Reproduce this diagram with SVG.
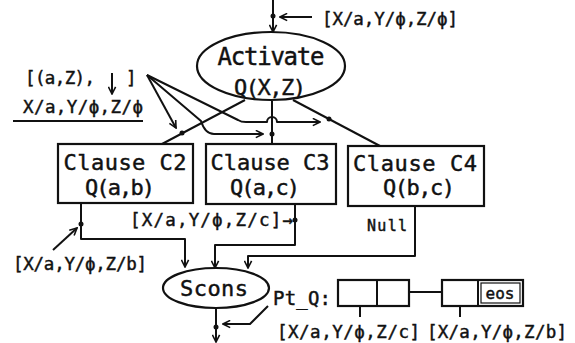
<svg xmlns="http://www.w3.org/2000/svg" width="575" height="343" viewBox="0 0 575 343">
  <defs>
    <style>
      .ln { fill: none; stroke: #111; stroke-width: 2; stroke-linejoin: round; }
      .box { fill: #fff; stroke: #111; stroke-width: 2.2; }
      .dot { fill: #111; }
      .t { font-family: "DejaVu Sans Mono", "Liberation Mono", monospace; fill: #111; stroke: #111; stroke-width: 0.45; }
      .big { font-size: 22px; }
      .lbl { font-size: 17.5px; }
    </style>
    <marker id="arr" viewBox="0 0 10 10" refX="9" refY="5" markerWidth="9" markerHeight="9" markerUnits="userSpaceOnUse" orient="auto">
      <path d="M1,1 L9,5 L1,9" fill="none" stroke="#111" stroke-width="1.8"/>
    </marker>
  </defs>
  <rect width="575" height="343" fill="#fff"/>

  <!-- connectors -->
  <g id="connectors">
    <!-- input into Activate -->
    <line class="ln" x1="273" y1="0" x2="273" y2="32" marker-end="url(#arr)"/>
    <circle class="dot" cx="273" cy="16" r="2.5"/>
    <line class="ln" x1="312" y1="17" x2="280" y2="17" marker-end="url(#arr)"/>

    <!-- Activate to clauses -->
    <line class="ln" x1="245" y1="100" x2="162" y2="144"/>
    <circle class="dot" cx="182" cy="133" r="2.5"/>
    <line class="ln" x1="272" y1="101" x2="272" y2="144"/>
    <circle class="dot" cx="272" cy="134" r="2.5"/>
    <line class="ln" x1="293" y1="100" x2="380" y2="146"/>
    <circle class="dot" cx="329" cy="119" r="2.5"/>

    <!-- bindings fanned out to the clause lines -->
    <line class="ln" x1="147" y1="75" x2="176" y2="128" marker-end="url(#arr)"/>
    <path class="ln" d="M147,75 L201,121 Q205,134 214,134 L263,134" marker-end="url(#arr)"/>
    <path class="ln" d="M147,75 L238,120 Q241,122 246,122 L267,122 A5,5 0 0 1 277,122 L320,122" marker-end="url(#arr)"/>

    <!-- binding list underline and down arrow -->
    <line class="ln" x1="13" y1="121" x2="143" y2="121"/>
    <line class="ln" x1="112" y1="73" x2="112" y2="94" marker-end="url(#arr)"/>

    <!-- clause results into Scons -->
    <path class="ln" d="M81,203 L81,239 L185,239 L185,267" marker-end="url(#arr)"/>
    <circle class="dot" cx="81" cy="224" r="2.5"/>
    <line class="ln" x1="53" y1="250" x2="77" y2="228" marker-end="url(#arr)"/>
    <path class="ln" d="M295,204 L295,245 L215,245 L215,268" marker-end="url(#arr)"/>
    <circle class="dot" cx="295" cy="220" r="2.5"/>
    <path class="ln" d="M415,206 L415,256 L248,256 L248,268" marker-end="url(#arr)"/>

    <!-- Scons output -->
    <line class="ln" x1="216" y1="308" x2="216" y2="342" marker-end="url(#arr)"/>
    <circle class="dot" cx="216" cy="327" r="2.5"/>
    <path class="ln" d="M268,306 L250,324 L223,324" marker-end="url(#arr)"/>

    <!-- stream list links -->
    <line class="ln" x1="390" y1="292" x2="442" y2="292" stroke-width="1.6"/>
    <line class="ln" x1="360" y1="290" x2="360" y2="317" stroke-width="1.8"/>
    <line class="ln" x1="460" y1="290" x2="460" y2="317" stroke-width="1.8"/>
  </g>

  <!-- nodes -->
  <g id="activate">
    <ellipse class="box" cx="271" cy="66" rx="74" ry="34"/>
    <text class="t" x="271" y="65" font-size="24" text-anchor="middle" textLength="107">Activate</text>
    <text class="t big" x="270" y="95" text-anchor="middle" textLength="72">Q(X,Z)</text>
  </g>

  <g id="clause-c2">
    <rect class="box" x="58" y="144" width="135" height="59"/>
    <text class="t big" x="125" y="170" text-anchor="middle" textLength="123">Clause C2</text>
    <text class="t big" x="120" y="195" text-anchor="middle" textLength="70">Q(a,b)</text>
  </g>

  <g id="clause-c3">
    <rect class="box" x="206" y="144" width="130" height="60"/>
    <text class="t big" x="270" y="170" text-anchor="middle" textLength="119">Clause C3</text>
    <text class="t big" x="265" y="195" text-anchor="middle" textLength="70">Q(a,c)</text>
  </g>

  <g id="clause-c4">
    <rect class="box" x="348" y="146" width="136" height="60"/>
    <text class="t big" x="415" y="171" text-anchor="middle" textLength="124">Clause C4</text>
    <text class="t big" x="419" y="195" text-anchor="middle" textLength="72">Q(b,c)</text>
  </g>

  <g id="scons">
    <ellipse class="box" cx="216" cy="288" rx="53" ry="20"/>
    <text class="t big" x="214" y="296" text-anchor="middle" textLength="68">Scons</text>
  </g>

  <g id="stream-list">
    <rect class="box" x="338" y="280" width="71" height="26" stroke-width="2"/>
    <line class="ln" x1="377" y1="280" x2="377" y2="306"/>
    <rect class="box" x="442" y="280" width="81" height="26" stroke-width="2"/>
    <line class="ln" x1="478" y1="280" x2="478" y2="306"/>
    <rect x="481" y="283" width="39" height="20" fill="none" stroke="#111" stroke-width="1.2"/>
    <text class="t" x="500" y="299" font-size="16" text-anchor="middle">eos</text>
  </g>

  <!-- labels -->
  <g id="labels">
    <text class="t lbl" x="322" y="25" textLength="136">[X/a,Y/ϕ,Z/ϕ]</text>
    <text class="t lbl" x="25" y="84" textLength="70">[(a,Z),</text>
    <text class="t lbl" x="126" y="84">]</text>
    <text class="t lbl" x="23" y="113" textLength="120">X/a,Y/ϕ,Z/ϕ</text>
    <text class="t lbl" x="130" y="226" textLength="163">[X/a,Y/ϕ,Z/c]→</text>
    <text class="t" x="367" y="231" font-size="15" textLength="40">Null</text>
    <text class="t lbl" x="13" y="270" textLength="134">[X/a,Y/ϕ,Z/b]</text>
    <text class="t" x="273" y="305" font-size="19" textLength="58">Pt_Q:</text>
    <text class="t lbl" x="277" y="338" textLength="143">[X/a,Y/ϕ,Z/c]</text>
    <text class="t lbl" x="427" y="338" textLength="140">[X/a,Y/ϕ,Z/b]</text>
  </g>
</svg>
